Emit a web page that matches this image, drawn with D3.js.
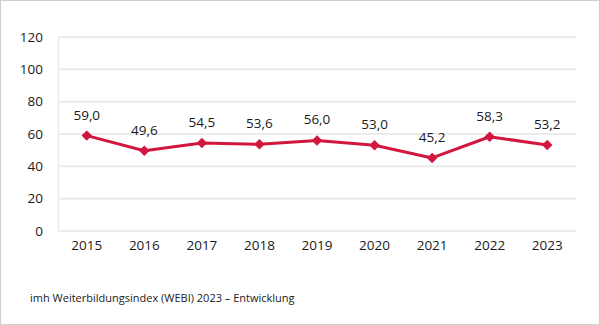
<!DOCTYPE html>
<html>
<head>
<meta charset="utf-8">
<script src="https://cdn.jsdelivr.net/npm/d3@7"></script>
<style>
  html, body { margin: 0; padding: 0; background: #fff; }
  svg { display: block; font-family: "Open Sans", sans-serif; }
</style>
</head>
<body>
<svg id="chart"></svg>
<script>
const years = ['2015', '2016', '2017', '2018', '2019', '2020', '2021', '2022', '2023'];
const webi = [59.0, 49.6, 54.5, 53.6, 56.0, 53.0, 45.2, 58.3, 53.2];
const yTicks = [0, 20, 40, 60, 80, 100, 120];
const caption = 'imh Weiterbildungsindex (WEBI) 2023 – Entwicklung';

const W = 600;
const H = 325;
const margin = { top: 37, right: 24, bottom: 94, left: 58 };
const width = W - margin.left - margin.right;
const height = H - margin.top - margin.bottom;
const red = '#d2173f';
const fontSize = 13.5;

const svgEl = d3.select('#chart').attr('width', W).attr('height', H);

// outer frame
svgEl
  .append('rect')
  .attr('x', 0.5)
  .attr('y', 0.5)
  .attr('width', W - 1)
  .attr('height', H - 1)
  .attr('fill', 'none')
  .attr('stroke', '#cfcfcf');

const svg = svgEl
  .append('g')
  .attr('transform', `translate(${margin.left},${margin.top})`);

const x = d3.scaleBand().domain(years).range([0, width]);
const y = d3.scaleLinear().domain([0, 120]).range([height, 0]);

// gridlines
svg
  .append('g')
  .selectAll('line')
  .data(yTicks)
  .join('line')
  .attr('x1', 0)
  .attr('x2', width)
  .attr('y1', (d) => y(d))
  .attr('y2', (d) => y(d))
  .attr('stroke', '#ebebeb')
  .attr('stroke-width', 2);

svg
  .append('line')
  .attr('x1', 0.5)
  .attr('x2', 0.5)
  .attr('y1', y(120))
  .attr('y2', y(0))
  .attr('stroke', '#ebebeb')
  .attr('stroke-width', 1.5);

// y axis labels
svg
  .append('g')
  .attr('transform', 'translate(-15,0)')
  .call(d3.axisLeft(y).tickValues(yTicks).tickSize(0).tickPadding(0))
  .call((g) => g.select('.domain').remove())
  .call((g) =>
    g.selectAll('text').attr('font-size', fontSize).attr('fill', '#1a1a1a').attr('font-family', '"Open Sans", sans-serif'),
  );

// x axis labels
svg
  .append('g')
  .attr('transform', `translate(0,${height + 9})`)
  .call(d3.axisBottom(x).tickSize(0).tickPadding(0))
  .call((g) => g.select('.domain').remove())
  .call((g) =>
    g.selectAll('text').attr('font-size', fontSize).attr('fill', '#1a1a1a').attr('font-family', '"Open Sans", sans-serif'),
  );

const cx = (d, i) => x(years[i]) + x.bandwidth() / 2;

const line = d3
  .line()
  .x((d, i) => cx(d, i))
  .y((d) => y(d));

svg
  .append('path')
  .datum(webi)
  .attr('d', line)
  .attr('fill', 'none')
  .attr('stroke', red)
  .attr('stroke-width', 3)
  .attr('stroke-linejoin', 'round');

svg
  .append('g')
  .selectAll('path')
  .data(webi)
  .join('path')
  .attr('d', d3.symbol(d3.symbolDiamond2, 70))
  .attr('transform', (d, i) => `translate(${cx(d, i)},${y(d)})`)
  .attr('fill', red);

svg
  .append('g')
  .selectAll('text')
  .data(webi)
  .join('text')
  .attr('x', (d, i) => cx(d, i))
  .attr('y', (d) => y(d) - 16)
  .attr('text-anchor', 'middle')
  .attr('font-size', fontSize)
  .attr('fill', '#1a1a1a')
  .text((d) => d.toFixed(1).replace('.', ','));

svgEl
  .append('text')
  .attr('x', 30)
  .attr('y', 302)
  .attr('font-size', 11)
  .attr('fill', '#1a1a1a')
  .text(caption);
</script>
</body>
</html>
